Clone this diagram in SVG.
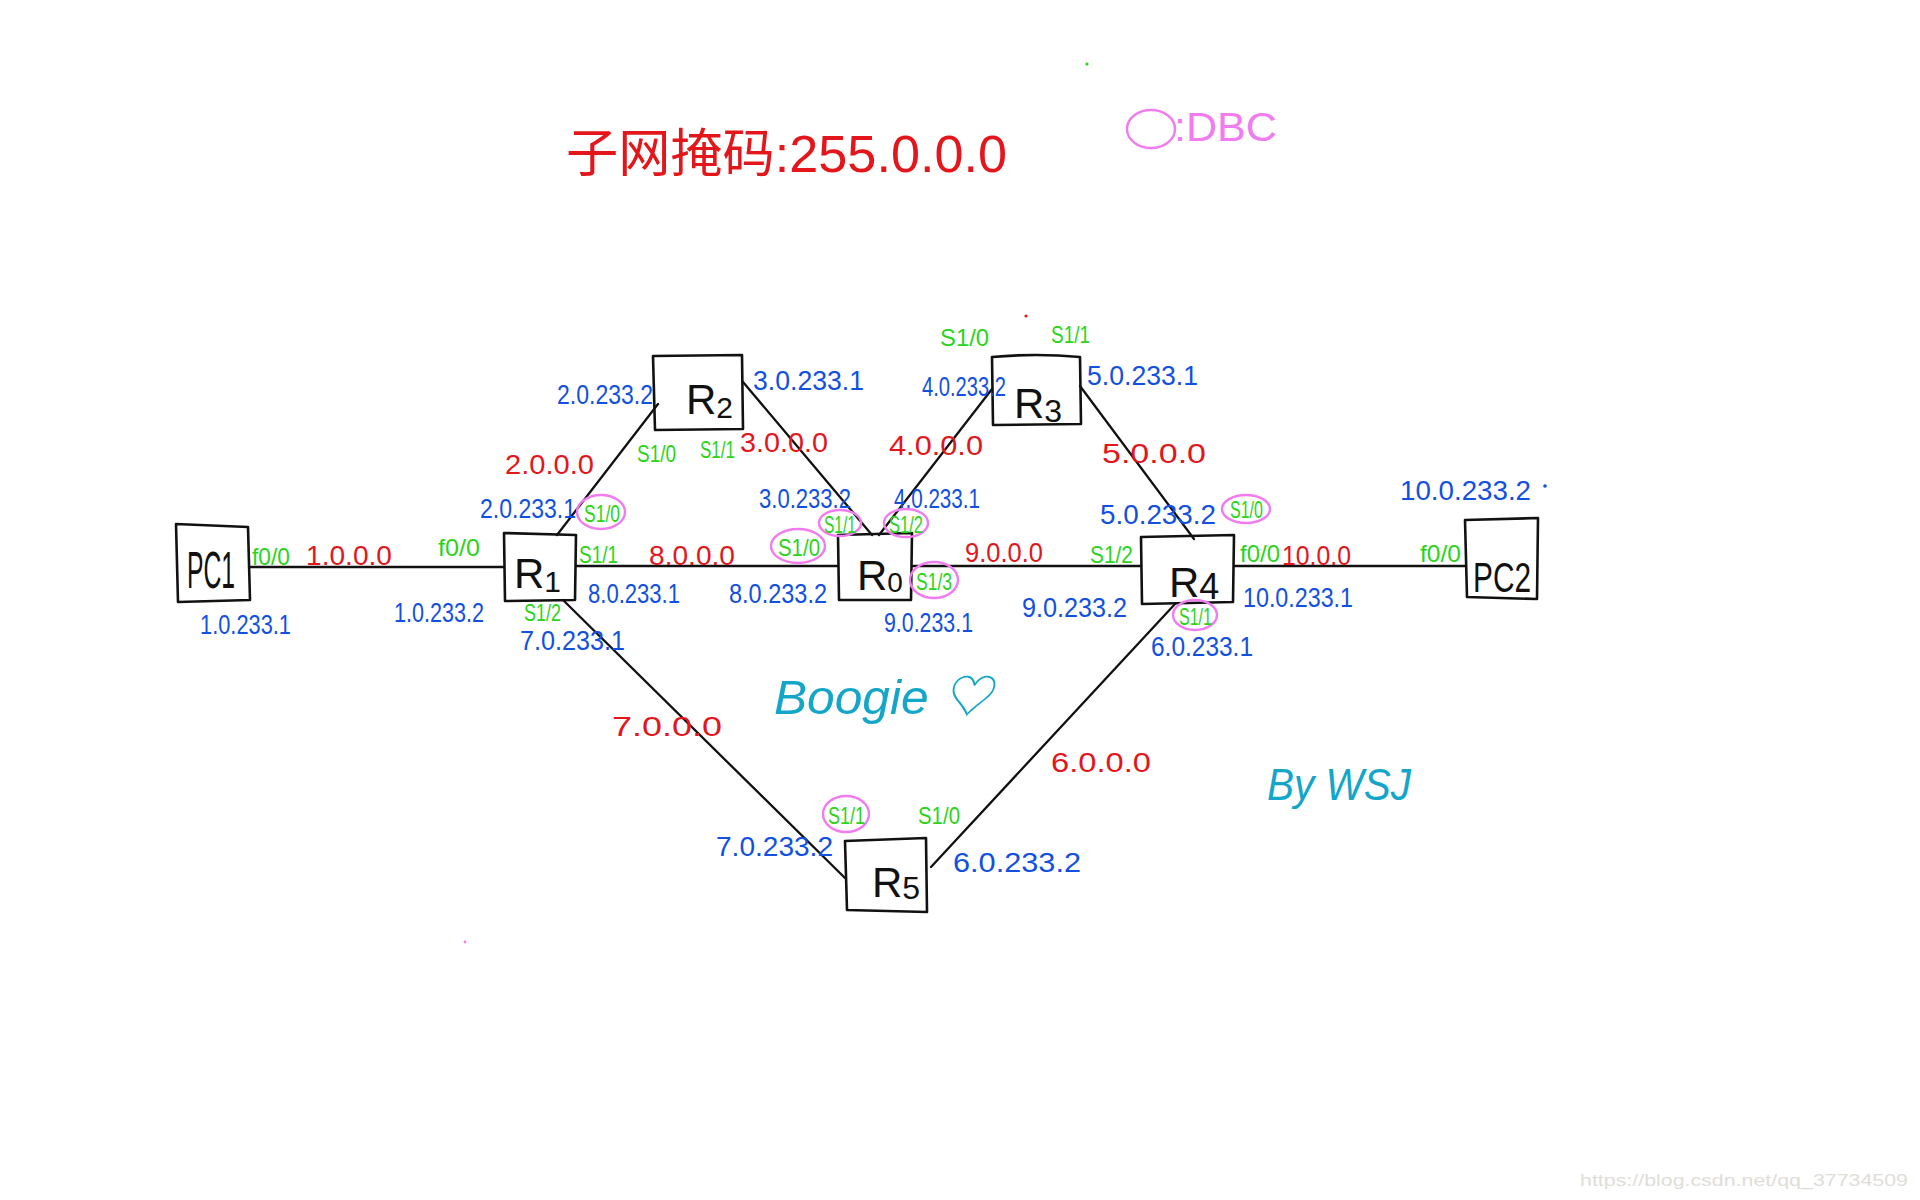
<svg xmlns="http://www.w3.org/2000/svg" width="1920" height="1200" viewBox="0 0 1920 1200">
<style>
text{font-family:"Liberation Sans","Noto Sans CJK SC",sans-serif}
.box{fill:none;stroke:#111;stroke-width:2.6;stroke-linejoin:round;stroke-linecap:round}
.lbl{font-size:42px;fill:#111}
.ip{font-size:27px;fill:#1150e0}
.net{font-size:27px;fill:#e3161c}
.ifc{font-size:24px;fill:#2ad418}
.dr{fill:none;stroke:#f07cf0;stroke-width:2.4}
.sig{fill:#13a6c9;font-style:italic}
.con line{stroke:#111;stroke-width:2.3;stroke-linecap:round}
</style>
<rect width="1920" height="1200" fill="#fff"/>

<text x="566" y="172" font-size="52" fill="#e3161c" textLength="441" lengthAdjust="spacingAndGlyphs">子网掩码:255.0.0.0</text>
<ellipse class="dr" cx="1151" cy="129" rx="24" ry="19"/>
<text x="1174" y="141" font-size="40" fill="#f07cf0" textLength="103" lengthAdjust="spacingAndGlyphs">:DBC</text>
<circle cx="1087" cy="64" r="1.6" fill="#2ad418"/>
<circle cx="1026" cy="316" r="1.6" fill="#e3161c"/>
<circle cx="465" cy="942" r="1.4" fill="#f07cf0"/>

<g class="con">
<line x1="250" y1="567" x2="504" y2="567"/>
<line x1="576" y1="566" x2="838" y2="566"/>
<line x1="912" y1="566" x2="1141" y2="566"/>
<line x1="1234" y1="566" x2="1465" y2="566"/>
<line x1="557" y1="535" x2="658" y2="404"/>
<line x1="743" y1="382" x2="872" y2="535"/>
<line x1="879" y1="535" x2="992" y2="389"/>
<line x1="1080" y1="386" x2="1194" y2="539"/>
<line x1="563" y1="600" x2="845" y2="878"/>
<line x1="1175" y1="604" x2="931" y2="867"/>
</g>

<g id="PC1"><path class="box" d="M176 524 L248 527 L250 600 L178 602 Z"/><text class="lbl" x="211" y="588" text-anchor="middle" font-size="34" textLength="48" lengthAdjust="spacingAndGlyphs" transform="translate(211 588) scale(1 1.25) translate(-211 -588)">PC1</text></g>
<g id="R1"><path class="box" d="M504 533 L576 535 L575 600 L505 601 Z"/><text class="lbl" x="514" y="588">R<tspan font-size="30" dy="4">1</tspan></text></g>
<g id="R2"><path class="box" d="M653 356 L742 355 L743 429 L655 430 Z"/><text class="lbl" x="686" y="414">R<tspan font-size="30" dy="4">2</tspan></text></g>
<g id="R0"><path class="box" d="M838 535 L912 533 L911 600 L839 600 Z"/><text class="lbl" x="857" y="590">R<tspan font-size="28" dy="2">0</tspan></text></g>
<g id="R3"><path class="box" d="M992 357 Q1036 353 1080 357 L1081 424 L993 425 Z"/><text class="lbl" x="1014" y="418">R<tspan font-size="32" dy="4">3</tspan></text></g>
<g id="R4"><path class="box" d="M1141 537 L1234 535 L1233 602 L1142 604 Z"/><text class="lbl" x="1169" y="597">R<tspan font-size="36" dy="2">4</tspan></text></g>
<g id="PC2"><path class="box" d="M1465 520 L1538 518 L1537 599 L1467 597 Z"/><text class="lbl" x="1473" y="592" textLength="58" lengthAdjust="spacingAndGlyphs">PC2</text></g>
<g id="R5"><path class="box" d="M845 841 L926 838 L927 912 L847 910 Z"/><text class="lbl" x="872" y="897">R<tspan font-size="32" dy="2">5</tspan></text></g>

<g id="networks">
<text class="net" x="306" y="565" textLength="86" lengthAdjust="spacingAndGlyphs">1.0.0.0</text>
<text class="net" x="505" y="474" textLength="89" lengthAdjust="spacingAndGlyphs">2.0.0.0</text>
<text class="net" x="740" y="452" textLength="88" lengthAdjust="spacingAndGlyphs">3.0.0.0</text>
<text class="net" x="889" y="455" textLength="94" lengthAdjust="spacingAndGlyphs">4.0.0.0</text>
<text class="net" x="1102" y="463" textLength="104" lengthAdjust="spacingAndGlyphs">5.0.0.0</text>
<text class="net" x="649" y="565" textLength="86" lengthAdjust="spacingAndGlyphs">8.0.0.0</text>
<text class="net" x="965" y="562" textLength="78" lengthAdjust="spacingAndGlyphs">9.0.0.0</text>
<text class="net" x="1282" y="565" textLength="69" lengthAdjust="spacingAndGlyphs">10.0.0</text>
<text class="net" x="612" y="736" textLength="110" lengthAdjust="spacingAndGlyphs">7.0.0.0</text>
<text class="net" x="1051" y="772" textLength="100" lengthAdjust="spacingAndGlyphs">6.0.0.0</text>
</g>

<g id="ips">
<text class="ip" x="200" y="634" textLength="91" lengthAdjust="spacingAndGlyphs">1.0.233.1</text>
<text class="ip" x="394" y="622" textLength="90" lengthAdjust="spacingAndGlyphs">1.0.233.2</text>
<text class="ip" x="557" y="404" textLength="96" lengthAdjust="spacingAndGlyphs">2.0.233.2</text>
<text class="ip" x="480" y="518" font-size="24" textLength="96" lengthAdjust="spacingAndGlyphs">2.0.233.1</text>
<text class="ip" x="753" y="390" textLength="111" lengthAdjust="spacingAndGlyphs">3.0.233.1</text>
<text class="ip" x="759" y="508" textLength="92" lengthAdjust="spacingAndGlyphs">3.0.233.2</text>
<text class="ip" x="922" y="396" font-size="22" textLength="84" lengthAdjust="spacingAndGlyphs">4.0.233.2</text>
<text class="ip" x="894" y="508" textLength="86" lengthAdjust="spacingAndGlyphs">4.0.233.1</text>
<text class="ip" x="1087" y="385" textLength="111" lengthAdjust="spacingAndGlyphs">5.0.233.1</text>
<text class="ip" x="1100" y="524" textLength="116" lengthAdjust="spacingAndGlyphs">5.0.233.2</text>
<text class="ip" x="588" y="603" textLength="92" lengthAdjust="spacingAndGlyphs">8.0.233.1</text>
<text class="ip" x="729" y="603" textLength="98" lengthAdjust="spacingAndGlyphs">8.0.233.2</text>
<text class="ip" x="884" y="632" textLength="89" lengthAdjust="spacingAndGlyphs">9.0.233.1</text>
<text class="ip" x="1022" y="617" textLength="105" lengthAdjust="spacingAndGlyphs">9.0.233.2</text>
<text class="ip" x="1243" y="607" textLength="110" lengthAdjust="spacingAndGlyphs">10.0.233.1</text>
<text class="ip" x="1400" y="500" textLength="131" lengthAdjust="spacingAndGlyphs">10.0.233.2</text>
<circle cx="1545" cy="486" r="1.8" fill="#1150e0"/>
<text class="ip" x="520" y="650" textLength="105" lengthAdjust="spacingAndGlyphs">7.0.233.1</text>
<text class="ip" x="716" y="856" textLength="117" lengthAdjust="spacingAndGlyphs">7.0.233.2</text>
<text class="ip" x="1151" y="656" textLength="102" lengthAdjust="spacingAndGlyphs">6.0.233.1</text>
<text class="ip" x="953" y="872" textLength="128" lengthAdjust="spacingAndGlyphs">6.0.233.2</text>
</g>

<g id="interfaces">
<text class="ifc" x="252" y="565" textLength="38" lengthAdjust="spacingAndGlyphs">f0/0</text>
<text class="ifc" x="438" y="556" textLength="42" lengthAdjust="spacingAndGlyphs">f0/0</text>
<ellipse class="dr" cx="601" cy="512" rx="24" ry="17"/>
<text class="ifc" x="584" y="522" textLength="36" lengthAdjust="spacingAndGlyphs">S1/0</text>
<text class="ifc" x="579" y="563" textLength="39" lengthAdjust="spacingAndGlyphs">S1/1</text>
<text class="ifc" x="524" y="621" textLength="37" lengthAdjust="spacingAndGlyphs">S1/2</text>
<text class="ifc" x="637" y="462" textLength="39" lengthAdjust="spacingAndGlyphs">S1/0</text>
<text class="ifc" x="700" y="458" textLength="35" lengthAdjust="spacingAndGlyphs">S1/1</text>
<ellipse class="dr" cx="798" cy="546" rx="27" ry="17"/>
<text class="ifc" x="778" y="556" textLength="42" lengthAdjust="spacingAndGlyphs">S1/0</text>
<ellipse class="dr" cx="840" cy="523" rx="21" ry="13"/>
<text class="ifc" x="824" y="533" textLength="32" lengthAdjust="spacingAndGlyphs">S1/1</text>
<ellipse class="dr" cx="906" cy="523" rx="22" ry="14"/>
<text class="ifc" x="889" y="533" textLength="34" lengthAdjust="spacingAndGlyphs">S1/2</text>
<ellipse class="dr" cx="934" cy="580" rx="24" ry="18"/>
<text class="ifc" x="916" y="590" textLength="36" lengthAdjust="spacingAndGlyphs">S1/3</text>
<text class="ifc" x="940" y="346" textLength="49" lengthAdjust="spacingAndGlyphs">S1/0</text>
<text class="ifc" x="1051" y="343" textLength="39" lengthAdjust="spacingAndGlyphs">S1/1</text>
<text class="ifc" x="1090" y="563" textLength="43" lengthAdjust="spacingAndGlyphs">S1/2</text>
<ellipse class="dr" cx="1246" cy="509" rx="24" ry="14"/>
<text class="ifc" x="1230" y="518" textLength="33" lengthAdjust="spacingAndGlyphs">S1/0</text>
<text class="ifc" x="1240" y="562" textLength="40" lengthAdjust="spacingAndGlyphs">f0/0</text>
<ellipse class="dr" cx="1195" cy="615" rx="22" ry="15"/>
<text class="ifc" x="1179" y="625" textLength="33" lengthAdjust="spacingAndGlyphs">S1/1</text>
<text class="ifc" x="1420" y="562" textLength="41" lengthAdjust="spacingAndGlyphs">f0/0</text>
<ellipse class="dr" cx="846" cy="814" rx="23" ry="18"/>
<text class="ifc" x="828" y="824" textLength="37" lengthAdjust="spacingAndGlyphs">S1/1</text>
<text class="ifc" x="918" y="824" textLength="42" lengthAdjust="spacingAndGlyphs">S1/0</text>
</g>

<text class="sig" x="774" y="714" font-size="48" textLength="218" lengthAdjust="spacingAndGlyphs">Boogie ♡</text>
<text class="sig" x="1267" y="800" font-size="44" textLength="144" lengthAdjust="spacingAndGlyphs">By WSJ</text>
<text x="1580" y="1186" font-family="Liberation Mono, monospace" font-size="17" fill="#e0ddd8" textLength="328" lengthAdjust="spacingAndGlyphs">https://blog.csdn.net/qq_37734509</text>
</svg>
